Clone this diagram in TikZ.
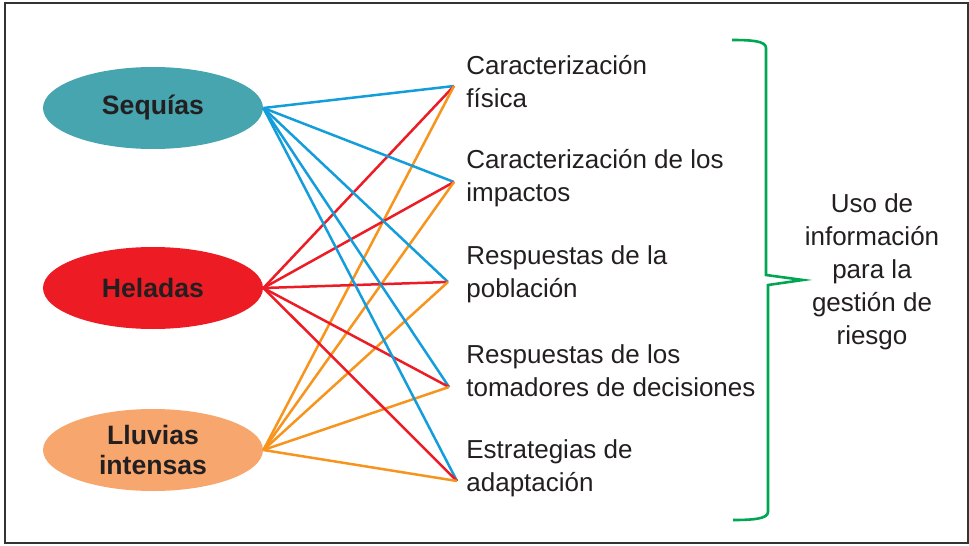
\documentclass[tikz,border=0pt]{standalone}
\usepackage{fontspec}
\setmainfont{Liberation Sans}
\usetikzlibrary{shapes.geometric}
\definecolor{txtgray}{HTML}{231F20}
\definecolor{sequia}{HTML}{46A5AF}
\definecolor{helada}{HTML}{ED1C24}
\definecolor{lluvia}{HTML}{F7A76E}
\definecolor{lblue}{HTML}{139DDB}
\definecolor{lred}{HTML}{ED1C24}
\definecolor{lorange}{HTML}{F7941D}
\definecolor{bracegreen}{HTML}{00A651}
\begin{document}
\begin{tikzpicture}[x=0.5pt,y=-0.5pt,
  every node/.style={text=txtgray,font=\fontsize{13}{16.5}\selectfont},
  hazard/.style={ellipse,minimum width=110pt,minimum height=41pt,inner sep=0pt,align=center,
    font=\fontsize{13.3}{15}\selectfont\bfseries},
  usebox/.style={anchor=west,align=left,inner sep=0pt},
  link/.style={line width=1.25pt}]
\useasboundingbox (0,0) rectangle (969,546);
\draw[line width=1.2pt,draw=black!80] (5,3) rectangle (968,543);
% amenazas
\node[hazard,fill=sequia] (seq) at (153,108) {Sequías};
\node[hazard,fill=helada] (hel) at (153,288) {Heladas};
\node[hazard,fill=lluvia] (llu) at (153,450) {Lluvias\\intensas};
% usos de la informacion
\node[usebox] (u1) at (466,82) {Caracterización\\física};
\node[usebox] (u2) at (466,178) {Caracterización de los\\impactos};
\node[usebox] (u3) at (466,274) {Respuestas de la\\población};
\node[usebox] (u4) at (466,371) {Respuestas de los\\tomadores de decisiones};
\node[usebox] (u5) at (466,468) {Estrategias de\\adaptación};
\coordinate (t1) at (454,86);
\coordinate (t2) at (454,182);
\coordinate (t3) at (448,282);
\coordinate (t4) at (449,387);
\coordinate (t5) at (457,481);
\foreach \t in {1,...,5}{
  \draw[link,lblue] (seq.east) -- (t\t);
  \draw[link,lred] (hel.east) -- (t\t);
  \draw[link,lorange] (llu.east) -- (t\t);
}
% llave
\draw[line width=1.3pt,bracegreen] (732,40) .. controls (752,40) and (766,41) .. (766,48)
  -- (766,275) -- (803,280) -- (768,285) -- (768,512)
  .. controls (768,519) and (752,520) .. (733,520);
\node[align=center,inner sep=0pt] (uso) at (872,272) {Uso de\\información\\para la\\gestión de\\riesgo};
\end{tikzpicture}
\end{document}
